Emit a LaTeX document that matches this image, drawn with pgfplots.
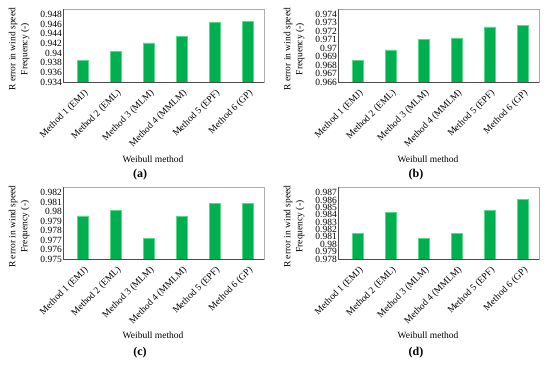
\documentclass[border=0pt]{standalone}
\usepackage{fontspec}
\setmainfont{Liberation Serif}
\usepackage{pgfplots}
\pgfplotsset{compat=1.18}
\definecolor{barg}{HTML}{00B050}
\definecolor{bare}{HTML}{5AD98A}
\pgfplotsset{
  panel/.style={
    scale only axis, width=201pt, height=73pt, anchor=south west,
    ybar, bar width=11pt,
    xmin=0.4, xmax=6.5,
    xtick={1,2,3,4,5,6},
    xticklabels={Method 1 (EMJ), Method 2 (EML), Method 3 (MLM), Method 4 (MMLM), Method 5 (EPF), Method 6 (GP)},
    tick style={draw=none},
    axis line style={draw=gray!65},
    scaled y ticks=false,
    /pgf/number format/assume math mode=true,
    yticklabel style={/pgf/number format/fixed, /pgf/number format/precision=3, font=\fontsize{9.5}{11}\selectfont, inner sep=1pt},
    xticklabel style={rotate=45, anchor=north east, font=\fontsize{9.5}{11}\selectfont, inner sep=1pt, yshift=-1pt},
    xlabel={Weibull method},
    xlabel style={at={(axis description cs:0.448,-1.055)}, anchor=center, font=\fontsize{9.5}{11}\selectfont},
    ylabel={R error in wind speed\\Frequency (-)},
    ylabel style={at={(axis description cs:-0.219,0.45)}, anchor=center, align=center, font=\fontsize{9.5}{12}\selectfont},
    after end axis/.code={\draw[black!70] (rel axis cs:0,1) -- (rel axis cs:0,0) -- (rel axis cs:1,0);},
  },
  barsty/.style={fill=barg, draw=bare, line width=0.5pt},
}
\begin{document}
\begin{tikzpicture}
\useasboundingbox (0,0) rectangle (550pt,365pt);
% (a)
\begin{axis}[panel, at={(63pt,283pt)}, ymin=0.934, ymax=0.9491,
  ytick={0.934,0.936,0.938,0.94,0.942,0.944,0.946,0.948}]
\addplot[barsty] coordinates {(1,0.9384) (2,0.9404) (3,0.9421) (4,0.9434) (5,0.9463) (6,0.9465)};
\end{axis}
% (b)
\begin{axis}[panel, at={(338pt,283pt)}, ymin=0.966, ymax=0.97463,
  ytick={0.966,0.967,0.968,0.969,0.97,0.971,0.972,0.973,0.974}]
\addplot[barsty] coordinates {(1,0.96853) (2,0.9698) (3,0.9710) (4,0.97123) (5,0.97253) (6,0.97265)};
\end{axis}
% (c)
\begin{axis}[panel, at={(63pt,106pt)}, height=72pt, ymin=0.975, ymax=0.98259,
  ytick={0.975,0.976,0.977,0.978,0.979,0.98,0.981,0.982}]
\addplot[barsty] coordinates {(1,0.97955) (2,0.98015) (3,0.9772) (4,0.97948) (5,0.98085) (6,0.98085)};
\end{axis}
% (d)
\begin{axis}[panel, at={(338pt,106pt)}, height=72pt, ymin=0.978, ymax=0.98776,
  ytick={0.978,0.979,0.98,0.981,0.982,0.983,0.984,0.985,0.986,0.987}]
\addplot[barsty] coordinates {(1,0.98147) (2,0.98435) (3,0.98084) (4,0.98147) (5,0.98462) (6,0.9861)};
\end{axis}
\node[font=\bfseries\fontsize{12}{14}\selectfont] at (140pt,190pt) {(a)};
\node[font=\bfseries\fontsize{12}{14}\selectfont] at (416pt,190pt) {(b)};
\node[font=\bfseries\fontsize{12}{14}\selectfont] at (140pt,12pt) {(c)};
\node[font=\bfseries\fontsize{12}{14}\selectfont] at (416pt,12pt) {(d)};
\end{tikzpicture}
\end{document}
